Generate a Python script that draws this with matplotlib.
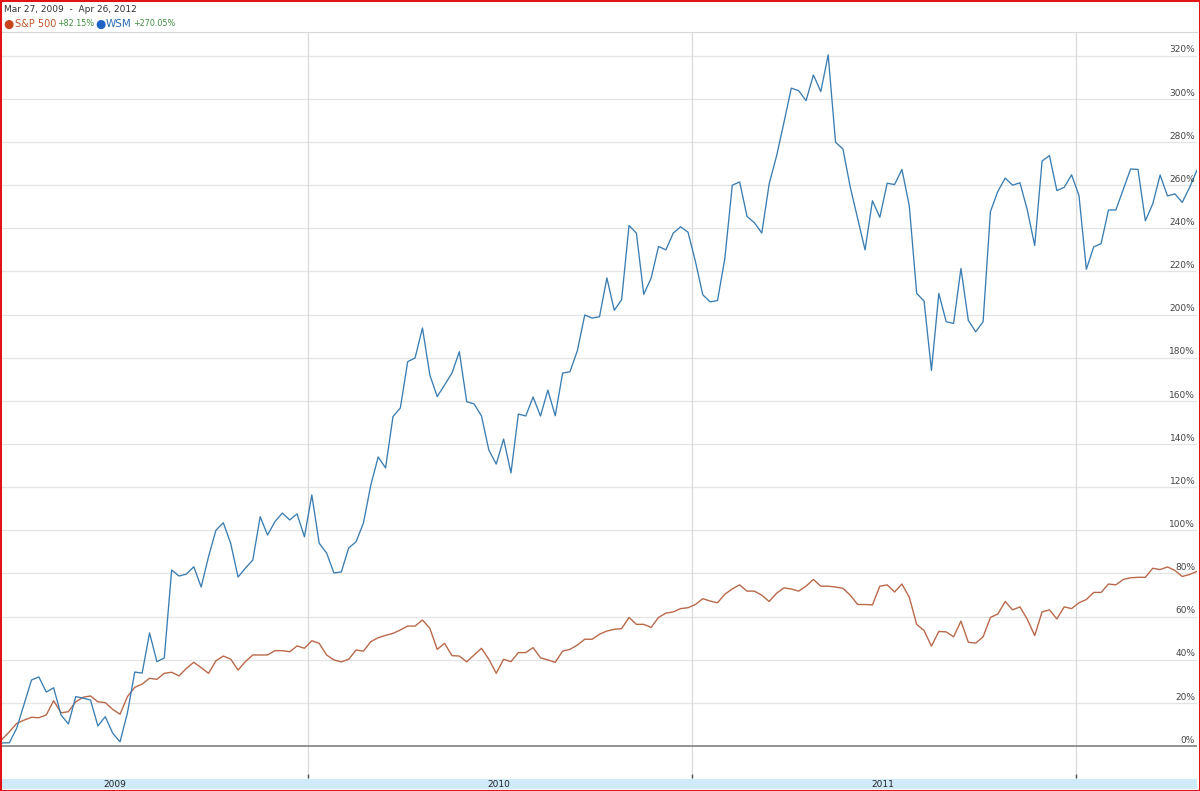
import matplotlib
matplotlib.use('Agg')
import matplotlib.pyplot as plt
import matplotlib.transforms as mtransforms
from matplotlib.patches import Rectangle
import pandas as pd

# ---------------- data (percent change since start) ----------------
start_date = '2009-03-16'
end_date = '2012-04-25'

wsm = [1.4, 1.5, 8.3, 19.5, 30.6, 32, 25, 27, 14.4, 10.2,
       22.9, 22.2, 21.3, 9.3, 13.6, 6, 1.9, 15.3, 34.3, 33.8,
       52.4, 39.1, 40.8, 81.6, 78.8, 79.7, 83.1, 73.7, 87.8, 100,
       103.5, 94, 78.3, 82.5, 86.2, 106.3, 97.8, 104, 108, 104.8,
       107.6, 97, 116.4, 94, 89.5, 80.2, 80.7, 91.8, 94.7, 103.4,
       121, 134, 128.9, 152.7, 156.7, 178.2, 179.9, 193.8, 172, 162,
       167.4, 172.9, 182.8, 159.6, 158.6, 153, 137.2, 130.7, 142.3, 126.6,
       153.9, 153, 161.8, 153, 165, 153.1, 172.9, 173.5, 183.3, 199.8,
       198.4, 199, 217, 202, 206.9, 241.3, 237.8, 209.4, 216.9, 231.6,
       230, 237.8, 240.7, 238.2, 224.7, 209.2, 205.9, 206.5, 226.2, 260,
       261.5, 245.5, 242.6, 237.8, 260.6, 273.5, 289, 305, 303.8, 299.2,
       311.1, 303.4, 320.4, 279.9, 276.8, 259, 244.5, 230, 252.8, 245.1,
       260.9, 260.3, 267.3, 250.3, 209.8, 206.3, 174.1, 209.8, 196.7, 195.9,
       221.4, 197.3, 192, 196.7, 247.8, 257.1, 263.3, 260, 261.1, 248.4,
       232, 271.2, 273.7, 257.5, 259, 264.8, 255.2, 221, 231.4, 232.9,
       248.5, 248.5, 258, 267.5, 267.3, 243.5, 251.3, 264.7, 255, 256,
       252, 259, 267]

sp500 = [3.1, 6.6, 10.5, 12, 13.3, 13.1, 14.4, 21, 15.4, 15.9,
         20.5, 22.6, 23.2, 20.5, 20.1, 17, 14.7, 22.9, 27.2, 28.7,
         31.4, 30.9, 33.7, 34.2, 32.5, 36, 38.8, 36.3, 33.7, 39.5,
         41.7, 40.3, 35.2, 39.1, 42.2, 42.2, 42.2, 44.2, 44.2, 43.7,
         46.4, 45.3, 48.8, 47.6, 42.2, 39.9, 39, 40.2, 44.5, 44,
         48.4, 50.2, 51.3, 52.2, 53.8, 55.6, 55.6, 58.4, 54.6, 44.8,
         47.6, 41.9, 41.7, 39, 42.2, 45.3, 40.2, 33.7, 40.2, 39.1,
         43.3, 43.3, 45.6, 40.9, 39.9, 38.8, 44, 44.8, 46.8, 49.5,
         49.5, 51.8, 53.3, 54.1, 54.4, 59.6, 56.4, 56.4, 55, 59.6,
         61.6, 62.2, 63.7, 64.1, 65.6, 68.3, 67.2, 66.4, 70.4, 72.8,
         74.7, 71.8, 71.8, 69.9, 67, 70.8, 73.3, 72.8, 71.8, 74.1,
         77.2, 74.1, 74.1, 73.7, 73.1, 69.9, 65.6, 65.6, 65.4, 74.1,
         74.7, 71.4, 75.1, 68.9, 56.4, 53.5, 46.3, 53.1, 52.9, 50.6,
         57.9, 48.1, 47.7, 50.6, 59.6, 61.2, 67, 63.1, 64.5, 58.7,
         51.2, 62.2, 63.1, 58.9, 64.5, 63.7, 66.4, 67.9, 71.2, 71.2,
         75.1, 74.7, 77.2, 78, 78.2, 78.2, 82.4, 81.8, 83, 81.4,
         78.6, 79.5, 81]

y_ticks = list(range(0, 321, 20))
year_bounds = ['2010-01-01', '2011-01-01', '2012-01-01']
year_labels = [2009, 2010, 2011, 2012]
header_range = 'Mar 27, 2009  -  Apr 26, 2012'
series_names = ['S&P 500', 'WSM']
series_changes = ['+82.15%', '+270.05%']

# ---------------- figure ----------------
W, H = 1200, 791
fig = plt.figure(figsize=(W / 100, H / 100), dpi=100)
fig.patch.set_facecolor('white')
plt.rcParams['font.family'] = ['DejaVu Sans']


def fx(px):
    return px / W


def fy(py):
    return 1 - py / H


top_px, bot_px = 32, 779
ax = fig.add_axes([fx(2), fy(bot_px), 1195 / W, (bot_px - top_px) / H])
ppu = 2.157  # pixels per percent
y_lo = (746 - bot_px) / ppu
y_hi = (746 - top_px) / ppu

d_w = pd.date_range(start_date, end_date, periods=len(wsm))
d_s = pd.date_range(start_date, end_date, periods=len(sp500))

for v in y_ticks[1:]:
    ax.axhline(v, color='#e4e4e4', lw=0.9, zorder=0)
for yb in year_bounds:
    ax.axvline(pd.Timestamp(yb), color='#dadada', lw=0.9, zorder=0)
ax.axhline(0, color='#8a8a8a', lw=1.3, zorder=1)

ax.plot(d_s, sp500, color='#b9694a', lw=1.0, zorder=3)
ax.plot(d_w, wsm, color='#3a7db2', lw=0.95, zorder=4)

ax.set_xlim(d_w[0], d_w[-1])
ax.set_ylim(y_lo, y_hi)
ax.set_xticks([])
ax.set_yticks([])
for s in ['left', 'right', 'bottom']:
    ax.spines[s].set_visible(False)
ax.spines['top'].set_color('#d8d8d8')
ax.spines['top'].set_linewidth(0.8)

# small dark ticks at year boundaries, just above the band
ax.vlines([pd.Timestamp(yb) for yb in year_bounds], (746 - 778) / ppu, (746 - 774) / ppu,
          color='#555555', lw=1.0, zorder=5)

# right-side percent labels
trans = mtransforms.blended_transform_factory(ax.transAxes, ax.transData)
for v in y_ticks:
    ax.text(0.9985, v + 0.6, f'{v}%', transform=trans, ha='right', va='bottom',
            fontsize=6.5, color='#444444', zorder=6)

# bottom year band
band = fig.add_axes([fx(2), fy(789), 1195 / W, 10 / H])
band.set_facecolor('#cfeaf9')
band.set_xlim(d_w[0], d_w[-1])
band.set_ylim(0, 1)
band.set_xticks([])
band.set_yticks([])
for s in band.spines.values():
    s.set_visible(False)
for yr in year_labels:
    mid = pd.Timestamp(f'{yr}-07-01')
    if d_w[0] <= mid <= d_w[-1]:
        band.text(mid, 0.45, str(yr), ha='center', va='center', fontsize=6.5, color='#222222')

# header
fig.text(fx(4), fy(9.5), header_range, ha='left', va='center', fontsize=6.5, color='#333333')
hy = fy(24)
fig.text(fx(3.5), hy, '●', ha='left', va='center', fontsize=8.5, color='#c8441c')
fig.text(fx(15), hy, series_names[0], ha='left', va='center', fontsize=7, color='#c0562a')
fig.text(fx(57), hy, series_changes[0], ha='left', va='center', fontsize=5.8, color='#3f8f3f')
fig.text(fx(95), hy, '●', ha='left', va='center', fontsize=8.5, color='#1f63c6')
fig.text(fx(106), hy, series_names[1], ha='left', va='center', fontsize=7.5, color='#2b6ab8')
fig.text(fx(133), hy, series_changes[1], ha='left', va='center', fontsize=5.8, color='#3f8f3f')

# red frame
fig.patches.append(Rectangle((0, 0), 1, 1, transform=fig.transFigure, fill=False,
                             edgecolor='#e01414', lw=2.2, zorder=10))

fig.savefig('out.png', dpi=100)
